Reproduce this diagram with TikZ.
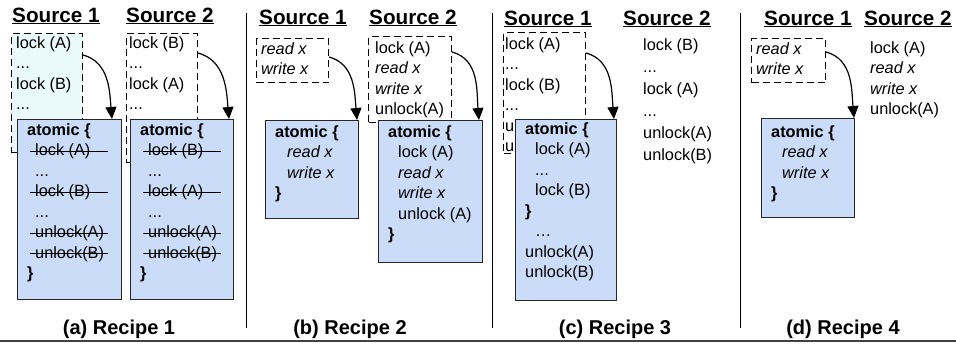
\documentclass[tikz,border=0pt]{standalone}
\usepackage{fontspec}
\setmainfont{Liberation Sans}
\usetikzlibrary{arrows.meta,positioning}
\definecolor{AtomBlue}{HTML}{CADCF8}
\definecolor{SrcCyan}{HTML}{EAFAFA}
\newcommand{\codeind}[1][10pt]{\hspace*{#1}}
\newcommand{\strk}[1]{\makebox[0pt][l]{\hspace*{-5pt}\rule[3.8pt]{78pt}{1pt}}#1}
\tikzset{
  srcbox/.style={draw=black, line width=1pt, dash pattern=on 7pt off 4pt, anchor=north west, inner sep=0pt},
  atombox/.style={draw=black!85, line width=1pt, fill=AtomBlue, anchor=north west, inner sep=0pt},
  code/.style={anchor=north west, align=left, inner sep=0pt, font=\fontsize{16.3}{20.5}\selectfont},
  title/.style={anchor=base west, inner sep=0pt, font=\fontsize{20.7}{24}\selectfont\bfseries},
  caption/.style={anchor=base, inner sep=0pt, font=\fontsize{20}{24}\selectfont\bfseries},
  arr/.style={-{Triangle[length=12pt,width=11pt]}, line width=1.2pt},
  sep/.style={line width=1pt}
}
\begin{document}
\begin{tikzpicture}[x=1pt,y=-1pt]
\useasboundingbox (0,0) rectangle (956,343);

% (a) Recipe 1
\node[title] (ta1) at (12,22) {\underline{Source 1}};
\node[title] (ta2) at (126,22) {\underline{Source 2}};
\node[srcbox, fill=SrcCyan, minimum width=71pt, minimum height=119pt] (sa1) at (11,33) {};
\node[srcbox, minimum width=71pt, minimum height=129pt] (sa2) at (126,33) {};
\node[code] (sa1 text) at (16,36) {lock (A)\\...\\lock (B)\\...};
\node[code] (sa2 text) at (129,36) {lock (B)\\...\\lock (A)\\...};
\node[atombox, minimum width=104pt, minimum height=180pt] (aa1) at (17,119) {};
\node[atombox, minimum width=103pt, minimum height=180pt] (aa2) at (130,119) {};
\node[code] (aa1 text) at (27,123) {\textbf{atomic \{}\\ \codeind[8pt]\strk{lock (A)}\\ \codeind[8pt]...\\
  \codeind[8pt]\strk{lock (B)}\\ \codeind[8pt]...\\ \codeind[8pt]\strk{unlock(A)}\\
  \codeind[8pt]\strk{unlock(B)}\\ \textbf{\}}};
\node[code] (aa2 text) at (140,123) {\textbf{atomic \{}\\ \codeind[8pt]\strk{lock (B)}\\ \codeind[8pt]...\\
  \codeind[8pt]\strk{lock (A)}\\ \codeind[8pt]...\\ \codeind[8pt]\strk{unlock(A)}\\
  \codeind[8pt]\strk{unlock(B)}\\ \textbf{\}}};
\draw[arr] ([yshift=-22pt]sa1.north east) to[out=-15, in=95] ([xshift=-10pt]aa1.north east);
\draw[arr] ([yshift=-20pt]sa2.north east) to[out=-15, in=95] ([xshift=-5pt]aa2.north east);
\node[caption] (capa) at (119,334) {(a) Recipe 1};

\draw[sep] (246,13) -- (246,328);

% (b) Recipe 2
\node[title] (tb1) at (259,24) {\underline{Source 1}};
\node[title] (tb2) at (369,24) {\underline{Source 2}};
\node[srcbox, minimum width=72pt, minimum height=44pt] (sb1) at (256,38) {};
\node[srcbox, minimum width=83pt, minimum height=86pt] (sb2) at (368,36) {};
\node[code] (sb1 text) at (261,42) {\textit{read x}\\\textit{write x}};
\node[code] (sb2 text) at (375,41) {lock (A)\\\textit{read x}\\\textit{write x}\\unlock(A)};
\node[atombox, minimum width=93pt, minimum height=98pt] (ab1) at (265,120) {};
\node[atombox, minimum width=104pt, minimum height=142pt] (ab2) at (378,120) {};
\node[code] (ab1 text) at (275,125) {\textbf{atomic \{}\\ \codeind[12pt]\textit{read x}\\
  \codeind[12pt]\textit{write x}\\ \textbf{\}}};
\node[code] (ab2 text) at (388,125) {\textbf{atomic \{}\\ \codeind lock (A)\\ \codeind\textit{read x}\\
  \codeind\textit{write x}\\ \codeind unlock (A)\\ \textbf{\}}};
\draw[arr] ([yshift=-19pt]sb1.north east) to[out=-15, in=95] ([xshift=-2pt]ab1.north east);
\draw[arr] ([yshift=-16pt]sb2.north east) to[out=-15, in=95] ([xshift=-4pt]ab2.north east);
\node[caption] (capb) at (350,334) {(b) Recipe 2};

\draw[sep] (492,13) -- (492,328);

% (c) Recipe 3
\node[title] (tc1) at (504,25) {\underline{Source 1}};
\node[title] (tc2) at (623,25) {\underline{Source 2}};
\node[srcbox, minimum width=82pt, minimum height=121pt] (sc1) at (503,32) {};
\node[code] (sc1 text) at (505,37) {lock (A)\\...\\lock (B)\\...\\unlock(A)\\unlock(B)};
\node[code, font=\fontsize{16.3}{22}\selectfont] (sc2 text) at (643,38)
  {lock (B)\\...\\lock (A)\\...\\unlock(A)\\unlock(B)};
\node[atombox, minimum width=101pt, minimum height=181pt] (ac1) at (515,119) {};
\node[code] (ac1 text) at (525,122) {\textbf{atomic \{}\\ \codeind lock (A)\\ \codeind...\\
  \codeind lock (B)\\ \textbf{\}}\\ \codeind …\\ unlock(A)\\ unlock(B)};
\draw[arr] ([yshift=-21pt]sc1.north east) to[out=-15, in=95] ([xshift=-3pt]ac1.north east);
\node[caption] (capc) at (615,334) {(c) Recipe 3};

\draw[sep] (740,13) -- (740,328);

% (d) Recipe 4
\node[title] (td1) at (764,25) {\underline{Source 1}};
\node[title] (td2) at (864,25) {\underline{Source 2}};
\node[srcbox, minimum width=74pt, minimum height=44pt] (sd1) at (751,38) {};
\node[code] (sd1 text) at (756,42) {\textit{read x}\\\textit{write x}};
\node[code] (sd2 text) at (870,41) {lock (A)\\\textit{read x}\\\textit{write x}\\unlock(A)};
\node[atombox, minimum width=93pt, minimum height=99pt] (ad1) at (761,118) {};
\node[code] (ad1 text) at (771,125) {\textbf{atomic \{}\\ \codeind[11pt]\textit{read x}\\
  \codeind[11pt]\textit{write x}\\ \textbf{\}}};
\draw[arr] ([yshift=-14pt]sd1.north east) to[out=-15, in=95] ([xshift=-1pt]ad1.north east);
\node[caption] (capd) at (843,334) {(d) Recipe 4};

\draw[line width=1.5pt, black!75] (0,341) -- (956,341);
\end{tikzpicture}
\end{document}
